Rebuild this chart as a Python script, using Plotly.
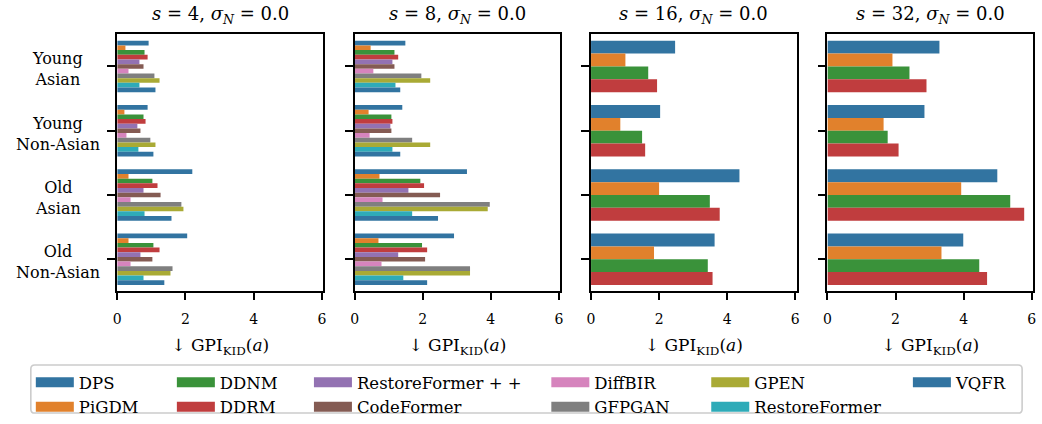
import plotly.graph_objects as go

W, H = 1042, 424

groups = ["Young Asian", "Young Non-Asian", "Old Asian", "Old Non-Asian"]
group_labels = ["Young<br>Asian", "Young<br>Non-Asian", "Old<br>Asian", "Old<br>Non-Asian"]

methods = ["DPS", "PiGDM", "DDNM", "DDRM", "RestoreFormer + +", "CodeFormer",
           "DiffBIR", "GFPGAN", "GPEN", "RestoreFormer", "VQFR"]
colors = ["#3274a1", "#e1812c", "#3a923a", "#c03d3e", "#9372b2", "#845b53",
          "#d684bd", "#7f7f7f", "#a9aa35", "#2eabb8", "#3274a1"]

titles = ["<i>s</i> = 4, <i>σ</i><sub><i>N</i></sub> = 0.0",
          "<i>s</i> = 8, <i>σ</i><sub><i>N</i></sub> = 0.0",
          "<i>s</i> = 16, <i>σ</i><sub><i>N</i></sub> = 0.0",
          "<i>s</i> = 32, <i>σ</i><sub><i>N</i></sub> = 0.0"]
xlabel = "↓ GPI<sub>KID</sub>(<i>a</i>)"
xticks = [0, 2, 4, 6]

# values per method: [Young Asian, Young Non-Asian, Old Asian, Old Non-Asian]
s4 = {
    "DPS": [0.92, 0.89, 2.20, 2.05],
    "PiGDM": [0.24, 0.21, 0.33, 0.33],
    "DDNM": [0.80, 0.77, 1.03, 1.06],
    "DDRM": [0.89, 0.83, 1.18, 1.24],
    "RestoreFormer + +": [0.65, 0.59, 0.77, 0.68],
    "CodeFormer": [0.77, 0.68, 1.27, 1.03],
    "DiffBIR": [0.33, 0.27, 0.39, 0.39],
    "GFPGAN": [1.09, 0.97, 1.88, 1.62],
    "GPEN": [1.24, 1.12, 1.94, 1.56],
    "RestoreFormer": [0.65, 0.62, 0.80, 0.77],
    "VQFR": [1.12, 1.06, 1.59, 1.38],
}
s8 = {
    "DPS": [1.49, 1.40, 3.30, 2.92],
    "PiGDM": [0.47, 0.41, 0.73, 0.70],
    "DDNM": [1.17, 1.08, 1.93, 1.98],
    "DDRM": [1.28, 1.11, 2.04, 2.13],
    "RestoreFormer + +": [1.11, 1.05, 1.58, 1.28],
    "CodeFormer": [1.17, 1.08, 2.51, 2.07],
    "DiffBIR": [0.55, 0.44, 0.82, 0.79],
    "GFPGAN": [1.96, 1.69, 3.97, 3.39],
    "GPEN": [2.22, 2.22, 3.91, 3.39],
    "RestoreFormer": [1.20, 1.11, 1.69, 1.43],
    "VQFR": [1.34, 1.34, 2.45, 2.13],
}
s16 = {
    "DPS": [2.47, 2.03, 4.36, 3.63],
    "PiGDM": [1.01, 0.86, 2.00, 1.85],
    "DDNM": [1.68, 1.50, 3.49, 3.43],
    "DDRM": [1.94, 1.59, 3.78, 3.57],
}
s32 = {
    "DPS": [3.29, 2.85, 4.99, 3.99],
    "PiGDM": [1.91, 1.65, 3.93, 3.35],
    "DDNM": [2.41, 1.77, 5.37, 4.46],
    "DDRM": [2.91, 2.09, 5.78, 4.69],
}
panels = [s4, s8, s16, s32]

# layout (page pixels)
x_dom_px = [(114, 321.5), (353, 560), (591, 798), (829, 1036)]
y_top_px, y_bot_px = 35, 297
FONT = "DejaVu Serif"


def px_x(p):
    return p / W


def px_y(p):
    return 1 - p / H


fig = go.Figure()
color_of = dict(zip(methods, colors))

for i, data in enumerate(panels):
    xa = "x" if i == 0 else f"x{i+1}"
    ya = "y" if i == 0 else f"y{i+1}"
    for m, vals in data.items():
        fig.add_trace(go.Bar(
            x=vals, y=groups, orientation="h", name=m,
            marker=dict(color=color_of[m], line=dict(width=0)),
            showlegend=False, xaxis=xa, yaxis=ya,
        ))

# legend columns (column-wise fill, like matplotlib)
legend_cols = [[0, 1], [2, 3], [4, 5], [6, 7], [8, 9], [10]]
legend_x_px = [34, 176, 314, 553, 714, 917]
for c, idxs in enumerate(legend_cols):
    lname = "legend" if c == 0 else f"legend{c+1}"
    for k in idxs:
        fig.add_trace(go.Scatter(
            x=[None], y=[None], mode="lines", name=methods[k],
            line=dict(color=colors[k], width=12),
            legend=lname, legendgroup=methods[k], showlegend=True,
            xaxis="x", yaxis="y",
        ))

layout = dict(
    width=W, height=H,
    margin=dict(l=0, r=0, t=0, b=0),
    plot_bgcolor="white", paper_bgcolor="white",
    barmode="group", bargap=0.2, bargroupgap=0,
    font=dict(family=FONT, size=14, color="black"),
    showlegend=True,
)

for c in range(len(legend_cols)):
    lname = "legend" if c == 0 else f"legend{c+1}"
    layout[lname] = dict(
        x=px_x(legend_x_px[c] - 7), xanchor="left",
        y=px_y(372), yanchor="top",
        orientation="v", bgcolor="rgba(0,0,0,0)", borderwidth=0,
        font=dict(family=FONT, size=16.5, color="black"),
        itemwidth=38,
        tracegroupgap=0, itemclick=False, itemdoubleclick=False,
    )

annotations = []
for i in range(4):
    xa = "xaxis" if i == 0 else f"xaxis{i+1}"
    ya = "yaxis" if i == 0 else f"yaxis{i+1}"
    x0, x1 = x_dom_px[i]
    layout[xa] = dict(
        domain=[px_x(x0), px_x(x1)], range=[0, 6.04],
        anchor="y" if i == 0 else f"y{i+1}",
        tickvals=xticks, ticktext=[str(t) for t in xticks],
        ticks="outside", ticklen=7, tickwidth=1.6, tickcolor="black",
        ticklabelstandoff=7,
        showline=True, mirror=True, linewidth=1.8, linecolor="black",
        showgrid=False, zeroline=False,
        tickfont=dict(family=FONT, size=14),
        title=dict(text=xlabel, font=dict(family=FONT, size=17), standoff=13),
        fixedrange=True,
    )
    layout[ya] = dict(
        domain=[px_y(y_bot_px), px_y(y_top_px)],
        anchor="x" if i == 0 else f"x{i+1}",
        type="category", categoryorder="array", categoryarray=groups,
        autorange=False, range=[3.5, -0.5],
        ticks="outside", ticklen=8, tickwidth=1.6, tickcolor="black",
        showticklabels=False,
        showline=True, mirror=True, linewidth=1.8, linecolor="black",
        showgrid=False, zeroline=False, fixedrange=True,
    )
    annotations.append(dict(
        text=titles[i], xref="paper", yref="paper",
        x=px_x((x0 + x1) / 2), y=px_y(15), xanchor="center", yanchor="middle",
        showarrow=False, font=dict(family=FONT, size=18),
    ))

for g, lab in zip(groups, group_labels):
    annotations.append(dict(
        text=lab, xref="paper", yref="y", x=px_x(54), y=g,
        xanchor="center", yanchor="middle", align="center",
        showarrow=False, yshift=-3, font=dict(family=FONT, size=16),
    ))

layout["annotations"] = annotations

# legend frame with rounded corners
lx0, lx1, ly0, ly1, r = 27, 1025, 372, 421, 4


def P(x, y):
    return f"{px_x(x)},{px_y(y)}"


path = (f"M{P(lx0 + r, ly0)} L{P(lx1 - r, ly0)} Q{P(lx1, ly0)} {P(lx1, ly0 + r)} "
        f"L{P(lx1, ly1 - r)} Q{P(lx1, ly1)} {P(lx1 - r, ly1)} "
        f"L{P(lx0 + r, ly1)} Q{P(lx0, ly1)} {P(lx0, ly1 - r)} "
        f"L{P(lx0, ly0 + r)} Q{P(lx0, ly0)} {P(lx0 + r, ly0)} Z")
layout["shapes"] = [dict(type="path", xref="paper", yref="paper", path=path,
                         line=dict(color="#cccccc", width=1.6), fillcolor="rgba(0,0,0,0)")]

fig.update_layout(**layout)
fig.write_html("out.html", config={"displayModeBar": False},
               post_script="document.body.style.margin='0';")
